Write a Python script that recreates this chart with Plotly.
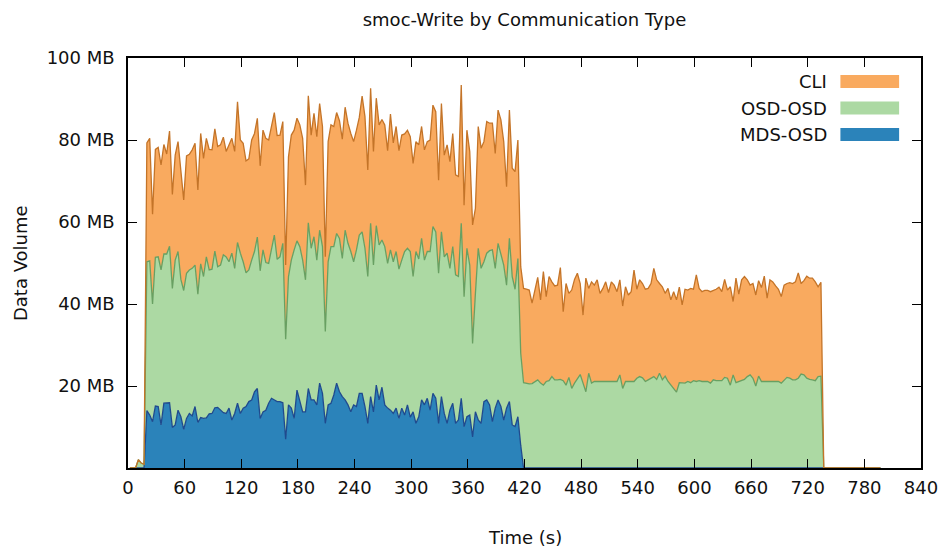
import plotly.graph_objects as go

# Sampled every 3 s starting at t = 2 s (values in MB)
mds_osd = [
    0, 0, 0, 0, 0, 0,
    14.0, 12.9, 11.3, 15.1, 15.0, 10.5, 15.8, 15.9, 15.9, 9.9,
    10.5, 14.1, 12.5, 9.4, 12.1, 13.3, 12.7, 15.0, 11.1, 12.3,
    12.1, 12.2, 13.2, 13.3, 14.7, 14.8, 14.1, 13.5, 13.3, 14.6,
    11.7, 13.3, 15.8, 13.3, 14.6, 15.0, 16.2, 16.6, 18.6, 19.4,
    12.1, 13.7, 14.1, 15.8, 17.0, 16.6, 16.2, 16.2, 15.9, 7.0,
    15.4, 14.6, 12.1, 19.0, 16.6, 13.7, 13.7, 19.4, 16.6, 16.6,
    15.4, 20.7, 18.2, 10.9, 15.4, 15.8, 17.8, 20.7, 18.6, 17.4,
    16.6, 15.4, 13.7, 15.4, 15.0, 18.2, 18.2, 15.0, 10.9, 17.4,
    13.7, 20.2, 16.6, 19.7, 15.4, 14.6, 14.1, 13.3, 14.6, 12.1,
    14.6, 12.9, 15.4, 12.4, 13.7, 10.9, 12.5, 16.6, 15.4, 17.0,
    14.1, 18.2, 17.0, 10.9, 17.4, 13.3, 10.9, 14.1, 15.8, 10.9,
    11.7, 17.0, 10.1, 12.5, 12.9, 7.6, 13.7, 11.7, 10.9, 16.2,
    16.6, 15.4, 11.3, 14.6, 16.6, 15.0, 11.7, 14.6, 16.2, 10.5,
    10.1, 12.5, 5.5,
    0, 0, 0, 0, 0, 0, 0, 0, 0, 0, 0, 0, 0, 0, 0, 0, 0, 0, 0, 0,
    0, 0, 0, 0, 0, 0, 0, 0, 0, 0, 0, 0, 0, 0, 0, 0, 0, 0, 0, 0,
    0, 0, 0, 0, 0, 0, 0, 0, 0, 0, 0, 0, 0, 0, 0, 0, 0, 0, 0, 0,
    0, 0, 0, 0, 0, 0, 0, 0, 0, 0, 0, 0, 0, 0, 0, 0, 0, 0, 0, 0,
    0, 0, 0, 0, 0, 0, 0, 0, 0, 0, 0, 0, 0, 0, 0, 0, 0, 0, 0, 0,
    0, 0, 0, 0, 0, 0,
    0, 0, 0, 0, 0, 0, 0, 0, 0, 0, 0, 0, 0, 0, 0, 0, 0, 0, 0, 0, 0,
]

osd_osd = [
    0, 0, 0, 2.0, 1.2, 0.9,
    36.3, 37.6, 28.7, 36.3, 36.5, 37.8, 36.4, 36.3, 38.2, 33.9,
    40.2, 38.7, 33.5, 33.9, 35.4, 35.0, 36.0, 34.5, 31.3, 37.5,
    34.6, 39.3, 35.1, 35.2, 38.2, 34.3, 35.4, 38.5, 38.2, 35.7,
    40.7, 35.4, 39.2, 39.1, 35.7, 32.6, 32.1, 34.1, 34.2, 36.9,
    36.0, 39.5, 36.0, 34.1, 36.6, 40.2, 34.7, 35.3, 38.9, 24.4,
    31.3, 36.1, 41.1, 36.4, 37.4, 37.0, 32.2, 40.4, 37.0, 39.8,
    35.3, 37.3, 35.8, 22.4, 34.9, 38.2, 36.2, 36.5, 37.4, 33.7,
    41.4, 39.4, 39.1, 34.9, 38.2, 38.6, 39.4, 38.6, 35.8, 42.3,
    35.8, 38.9, 37.8, 35.9, 38.6, 35.3, 39.1, 37.0, 38.2, 36.4,
    36.1, 39.9, 38.2, 40.4, 33.0, 41.9, 38.5, 39.4, 35.3, 35.8,
    38.7, 40.7, 40.6, 36.6, 40.2, 38.2, 41.5, 34.6, 38.2, 36.2,
    35.0, 42.7, 31.7, 41.1, 36.6, 22.8, 28.9, 41.9, 37.8, 34.1,
    35.8, 37.6, 41.9, 34.1, 38.2, 37.4, 37.8, 30.0, 39.8, 36.2,
    33.5, 38.6, 22.5,
    20.8, 20.7, 20.5, 20.6, 21.1, 21.5, 20.7, 20.2, 21.1, 21.3,
    22.3, 21.5, 21.5, 21.6, 21.3, 20.2, 22.1, 19.4, 20.7, 21.9,
    22.8, 20.7, 18.6, 23.1, 20.7, 21.1, 21.1, 21.1, 21.1, 21.1,
    21.1, 21.1, 21.1, 21.1, 22.7, 19.4, 21.1, 21.1, 21.1, 21.1,
    21.9, 22.3, 22.0, 21.1, 21.5, 21.9, 22.3, 21.6, 23.1, 21.5,
    22.4, 21.1, 20.2, 19.5, 18.5, 20.8, 20.8, 20.7, 21.1, 20.8,
    21.3, 21.1, 21.3, 21.1, 21.1, 21.1, 20.7, 21.5, 21.3, 21.3,
    21.3, 22.1, 21.9, 20.2, 22.7, 20.8, 21.1, 21.3, 21.6, 22.3,
    22.7, 21.9, 20.0, 22.4, 21.1, 21.1, 21.1, 21.1, 21.1, 21.1,
    21.1, 20.7, 21.5, 22.1, 21.9, 21.5, 21.5, 21.9, 22.9, 22.7,
    21.9, 21.6, 21.5, 21.3, 22.3, 22.4,
    0, 0, 0, 0, 0, 0, 0, 0, 0, 0, 0, 0, 0, 0, 0, 0, 0, 0, 0, 0, 0,
]

cli = [
    0, 0, 0, 0, 0, 0,
    29.0, 29.9, 21.9, 26.3, 26.7, 25.6, 26.7, 24.4, 28.1, 22.9,
    25.6, 26.8, 27.1, 22.1, 28.6, 28.2, 28.9, 29.7, 25.4, 31.8,
    28.8, 28.9, 29.4, 29.1, 29.8, 29.3, 29.3, 28.7, 25.7, 28.5,
    28.0, 28.5, 34.3, 27.6, 28.9, 27.3, 27.1, 29.3, 28.8, 29.0,
    25.6, 29.2, 30.3, 30.1, 30.1, 29.9, 30.2, 29.7, 29.7, 18.1,
    29.2, 30.5, 29.2, 29.9, 29.7, 29.7, 23.1, 31.0, 27.6, 30.1,
    30.1, 30.9, 29.3, 18.2, 29.3, 29.7, 29.3, 29.5, 28.7, 29.1,
    30.0, 29.3, 28.8, 29.3, 29.2, 28.7, 33.1, 32.1, 26.0, 32.9,
    27.7, 31.1, 29.3, 29.4, 29.7, 27.5, 33.1, 29.0, 30.5, 28.9,
    30.5, 28.7, 28.8, 28.0, 27.6, 26.8, 27.8, 27.3, 26.9, 26.8,
    27.2, 29.6, 29.3, 22.7, 31.3, 24.8, 26.4, 26.0, 27.6, 24.4,
    24.4, 33.7, 22.3, 28.8, 27.7, 28.9, 20.7, 29.7, 29.3, 29.3,
    32.1, 31.1, 30.9, 28.0, 32.5, 32.5, 30.1, 24.0, 31.3, 26.4,
    28.7, 28.9, 21.1,
    23.0, 22.9, 22.9, 19.6, 22.3, 25.0, 20.3, 27.7, 20.7, 25.4,
    23.1, 22.9, 23.1, 27.3, 16.8, 24.8, 20.5, 24.0, 25.3, 25.6,
    22.2, 16.6, 27.7, 20.7, 24.7, 23.5, 24.8, 21.5, 22.7, 24.3,
    21.7, 24.3, 23.5, 21.9, 23.2, 20.1, 23.1, 21.1, 21.9, 27.2,
    21.7, 23.6, 23.0, 22.5, 22.3, 23.1, 26.4, 24.3, 21.9, 22.7,
    20.2, 22.7, 20.8, 23.5, 22.5, 23.3, 19.0, 22.9, 22.3, 23.0,
    22.3, 26.0, 22.5, 21.9, 22.2, 22.2, 22.3, 21.8, 22.3, 22.8,
    21.7, 23.9, 21.5, 24.0, 17.9, 25.5, 21.3, 24.6, 25.1, 23.6,
    21.9, 23.1, 22.2, 23.3, 22.9, 25.7, 20.3, 24.8, 24.3, 23.3,
    22.5, 21.1, 23.1, 22.9, 23.3, 23.5, 23.9, 25.7, 22.1, 23.0,
    24.9, 24.7, 24.8, 24.1, 21.9, 22.9,
    0, 0, 0, 0, 0, 0, 0, 0, 0, 0, 0, 0, 0, 0, 0, 0, 0, 0, 0, 0, 0,
]

n = min(len(mds_osd), len(osd_osd), len(cli))
time_s = [2 + 3 * i for i in range(n)]

x_ticks = [0, 60, 120, 180, 240, 300, 360, 420, 480, 540, 600, 660, 720, 780, 840]
y_ticks = [20, 40, 60, 80, 100]
y_labels = ["20 MB", "40 MB", "60 MB", "80 MB", "100 MB"]

series = [
    ("MDS-OSD", mds_osd, "#2b83ba", "#1f4a8e"),
    ("OSD-OSD", osd_osd, "#acd9a3", "#68a062"),
    ("CLI", cli, "#f9aa5f", "#c47428"),
]

fig = go.Figure()
for name, vals, fillc, linec in series:
    fig.add_trace(go.Scatter(
        x=time_s, y=vals[:n], name=name, stackgroup="one", mode="lines",
        line=dict(color=linec, width=1.3), fillcolor=fillc,
    ))

FONT = "DejaVu Sans"
axis_common = dict(
    showline=True, linecolor="black", linewidth=1.5, mirror="ticks",
    ticks="inside", ticklen=9, tickwidth=1.3, tickcolor="black",
    showgrid=False, zeroline=False,
    tickfont=dict(family=FONT, size=18, color="#111111"),
)

fig.update_layout(
    width=950, height=554,
    margin=dict(l=128, r=25, t=58, b=86),
    plot_bgcolor="white", paper_bgcolor="white",
    showlegend=False,
    font=dict(family=FONT, size=18, color="#111111"),
    title=dict(text="smoc-Write by Communication Type", x=0.5, xref="paper",
               y=1 - 20 / 554, yref="container", yanchor="middle",
               font=dict(family=FONT, size=18, color="#111111")),
    xaxis=dict(range=[0, 840], tickvals=x_ticks, ticklabelstandoff=3, **axis_common),
    yaxis=dict(range=[0, 100], tickvals=y_ticks, ticktext=y_labels,
               ticklabelstandoff=8, **axis_common),
)

# axis titles
fig.add_annotation(text="Data Volume", textangle=-90, xref="paper", yref="paper",
                   x=(19.5 - 128) / 797, y=0.5, xanchor="center", yanchor="middle",
                   showarrow=False, font=dict(family=FONT, size=18, color="#111111"))
fig.add_annotation(text="Time (s)", xref="paper", yref="paper",
                   x=0.5, y=(468 - 537) / 410, xanchor="center", yanchor="middle",
                   showarrow=False, font=dict(family=FONT, size=18, color="#111111"))

# gnuplot-style key: label on the left, colour box on the right
key_rows = [("CLI", "#f9aa5f", 81.5), ("OSD-OSD", "#acd9a3", 108.0), ("MDS-OSD", "#2b83ba", 134.5)]
for label, colour, ypix in key_rows:
    yc = (468 - ypix) / 410
    h = 6.5 / 410
    fig.add_shape(type="rect", xref="paper", yref="paper",
                  x0=(844 - 128) / 797, x1=(903 - 128) / 797, y0=yc - h, y1=yc + h,
                  fillcolor=colour, line=dict(width=0))
    fig.add_annotation(text=label, xref="paper", yref="paper",
                       x=(833 - 128) / 797, y=yc, xanchor="right", yanchor="middle",
                       showarrow=False, font=dict(family=FONT, size=18, color="#111111"))

fig.write_html("out.html")
